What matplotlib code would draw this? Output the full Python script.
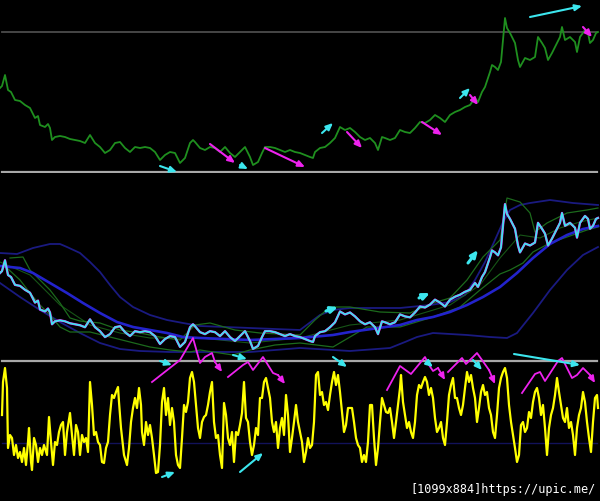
import matplotlib
matplotlib.use("Agg")
import matplotlib.pyplot as plt

# ---------------- data ----------------
# price (top panel and cyan line of middle panel)
price_x = [0, 2, 5, 8, 11, 15, 20, 25, 30, 35, 38, 40, 45, 48, 50, 52, 55, 60, 65, 70, 75, 80, 85, 90, 95,
           100, 105, 110, 115, 120, 125, 130, 135, 140, 145, 150, 155, 160, 165, 170, 175, 180, 185, 190, 193, 195,
           200, 205, 210, 215, 220, 225, 230, 235, 240, 245, 250, 253, 258, 262, 265, 270, 275, 280, 285, 290, 295,
           300, 305, 310, 313, 315, 320, 325, 330, 335, 340, 345, 350, 355, 360, 365, 370, 375, 378, 382, 385, 390, 395,
           400, 405, 410, 415, 420, 425, 430, 435, 440, 445, 450, 455, 460, 465, 470, 475, 478, 482, 485, 488, 490, 492, 495, 498,
           501, 503, 505, 507, 510, 515, 518, 520, 525, 530, 535, 538, 542, 545, 548, 552, 555, 560, 562, 565, 570, 575, 577, 580,
           585, 588, 590, 593, 596, 598]
price = [92, 94, 105, 90, 88, 80, 79, 75, 72, 62, 64, 55, 53, 56, 52, 40, 43, 44, 43, 41, 40, 39, 37, 45, 37,
         33, 27, 30, 37, 38, 32, 28, 33, 32, 33, 32, 28, 20, 25, 28, 27, 17, 22, 37, 40, 38,
         32, 30, 33, 32, 28, 33, 27, 23, 28, 33, 23, 15, 18, 27, 33, 33, 32, 30, 28, 30, 28,
         27, 25, 23, 22, 28, 32, 33, 37, 42, 53, 50, 52, 48, 43, 40, 42, 37, 30, 43, 42, 40, 42,
         50, 48, 47, 52, 58, 57, 60, 65, 62, 58, 65, 68, 70, 73, 75, 82, 78, 88, 93, 102, 108, 115, 113, 110,
         118, 140, 162, 152, 147, 137, 120, 113, 122, 120, 123, 143, 137, 132, 120, 127, 133, 143, 153, 140, 143, 138, 128, 143,
         150, 147, 137, 140, 147, 148]
top_ref_level = 148

# middle panel indicator lines
ma_x = [0, 20, 33, 50, 67, 83, 100, 117, 133, 150, 167, 183, 200, 250, 300, 333, 350, 400, 417, 433, 450, 467, 483,
        500, 517, 533, 550, 567, 583, 598]
ma = [98, 96, 91, 81, 71, 61, 51, 42, 37, 34, 31, 27, 26, 24, 26, 29, 32, 39, 44, 47, 52, 59, 67,
      77, 91, 106, 120, 129, 135, 138]

env_up_x = [0, 17, 33, 50, 60, 67, 80, 90, 100, 110, 120, 133, 150, 167, 183, 200, 250, 300, 320, 333, 350, 400,
            430, 450, 465, 475, 485, 495, 503, 510, 520, 530, 550, 573, 598]
env_up = [111, 110, 116, 120, 120, 117, 111, 102, 92, 79, 67, 57, 49, 44, 41, 38, 36, 34, 49, 54, 56, 56,
          59, 62, 69, 84, 102, 124, 142, 154, 159, 161, 164, 161, 159]

env_lo_x = [0, 20, 40, 60, 80, 100, 120, 140, 170, 200, 250, 300, 350, 390, 405, 417, 433, 467, 490, 507, 517,
            533, 550, 567, 583, 598]
env_lo = [81, 67, 54, 42, 31, 21, 15, 13, 12, 12, 12, 16, 13, 16, 22, 27, 31, 29, 27, 26, 31,
          51, 74, 94, 109, 117]

bb_up_x = [10, 23, 30, 40, 50, 60, 70, 80, 100, 120, 140, 160, 180, 195, 210, 235, 260, 300, 315, 330, 350, 380,
           410, 433, 450, 467, 483, 500, 507, 520, 530, 535, 547, 567, 587, 598]
bb_up = [106, 107, 94, 84, 74, 61, 46, 43, 41, 34, 31, 27, 24, 39, 41, 34, 31, 29, 44, 57, 57, 52,
         51, 61, 66, 84, 107, 124, 166, 162, 151, 132, 141, 151, 154, 156]

bb_lo_x = [7, 20, 30, 40, 50, 60, 70, 90, 110, 130, 150, 170, 190, 200, 233, 250, 275, 300, 333, 367, 400, 433,
           460, 480, 500, 510, 523, 533, 550, 567, 587, 598]
bb_lo = [96, 84, 71, 59, 49, 37, 32, 32, 27, 22, 17, 14, 12, 14, 9, 14, 19, 21, 17, 37, 37, 47,
         57, 74, 90, 94, 101, 112, 121, 127, 134, 137]

bb_mid_x = [0, 30, 60, 90, 120, 150, 200, 250, 300, 350, 400, 450, 480, 500, 520, 540, 560, 580, 598]
bb_mid = [102, 89, 59, 39, 31, 26, 26, 21, 26, 39, 44, 59, 79, 106, 129, 126, 136, 142, 146]

# oscillator (bottom panel)
osc_x = [2, 3, 5, 7, 8, 10, 12, 14, 16, 18, 20, 22, 24, 26, 28, 29, 31, 32, 34, 36, 38, 40, 42, 44, 47, 49,
         51, 53, 55, 57, 59, 61, 63, 65, 67, 70, 72, 74, 76, 78, 80, 82, 84, 86, 88, 90, 92, 94, 96, 98,
         100, 102, 104, 106, 108, 110, 112, 114, 116, 118, 119, 121, 124, 127, 129, 131, 133, 135, 137, 139, 141, 142,
         144, 146, 148, 150, 152, 154, 156, 158, 160, 162, 164, 166, 168, 170, 172, 174, 176, 178, 180, 182, 184,
         186, 188, 190, 192, 194, 196, 198,
         200, 202, 204, 206, 208, 210, 212, 214, 216, 218, 220, 222, 224, 226, 228, 230, 232, 234, 236, 238, 240,
         242, 244, 246, 248, 250, 252, 254, 256, 258, 260, 262, 264, 266, 268, 270, 272, 274, 276, 278, 280, 282,
         284, 286, 288, 290, 292, 294, 296, 298,
         300, 302, 304, 306, 308, 310, 312, 314, 316, 318, 320, 322, 324, 326, 328, 330, 332, 334, 336, 338, 340,
         342, 344, 346, 348, 350, 352, 354, 356, 358, 360, 362, 364, 366, 368, 370, 372, 374, 376, 378, 380, 382,
         384, 386, 388, 390, 392, 394, 396, 398,
         400, 401, 403, 405, 407, 409, 411, 413, 415, 417, 419, 421, 423, 425, 427, 429, 431, 433, 435, 437, 439,
         441, 443, 445, 447, 449, 451, 453, 455, 457, 459, 461, 463, 465, 467, 469, 471, 473, 475, 477, 479, 481,
         483, 485, 487, 489, 491, 493, 495, 497, 499,
         501, 503, 505, 507, 509, 511, 513, 515, 517, 519, 521, 523, 525, 527, 529, 531, 533, 535, 537, 539, 541,
         543, 545, 547, 549, 551, 553, 555, 557, 559, 561, 563, 565, 567, 569, 571, 573, 575, 577, 579, 581, 583,
         585, 587, 589, 591, 593, 595, 597, 598]
osc = [86, 119, 133, 113, 53, 66, 63, 46, 56, 43, 49, 39, 53, 36, 59, 73, 39, 31, 63, 56, 39, 53, 46, 56, 46, 84,
       59, 36, 59, 56, 69, 76, 79, 46, 69, 88, 66, 46, 76, 69, 46, 66, 59, 63, 49, 119, 96, 66, 69, 59,
       56, 39, 38, 53, 59, 86, 106, 103, 109, 114, 99, 73, 46, 36, 53, 79, 93, 103, 93, 113, 96, 69,
       56, 79, 66, 76, 63, 46, 28, 29, 56, 99, 113, 86, 103, 76, 93, 79, 46, 36, 33, 63, 96,
       89, 99, 123, 129, 119, 96, 73,
       63, 79, 84, 86, 96, 109, 119, 79, 63, 66, 46, 33, 98, 86, 63, 56, 69, 39, 69, 66, 76,
       88, 119, 83, 79, 59, 46, 56, 73, 66, 103, 103, 119, 123, 113, 103, 79, 69, 79, 53, 73, 83,
       66, 106, 86, 49, 63, 79, 96, 79,
       69, 59, 39, 49, 63, 53, 56, 79, 126, 129, 106, 109, 96, 99, 91, 106, 119, 129, 116, 126, 109,
       89, 69, 76, 93, 93, 93, 79, 63, 56, 53, 39, 46, 39, 59, 96, 96, 63, 36, 53, 79, 103,
       96, 89, 88, 93, 79, 63, 79, 96,
       113, 126, 99, 86, 73, 79, 69, 63, 79, 106, 116, 113, 119, 124, 119, 106, 113, 103, 83, 69, 73,
       79, 63, 56, 79, 106, 116, 123, 103, 103, 93, 86, 96, 113, 129, 119, 126, 113, 103, 79, 93, 109,
       116, 106, 109, 93, 86, 69, 63, 86, 113,
       123, 129, 133, 123, 96, 79, 66, 53, 39, 46, 76, 79, 69, 73, 89, 83, 99, 109, 113, 103, 86,
       96, 73, 46, 73, 86, 93, 106, 123, 109, 96, 83, 79, 93, 73, 79, 66, 46, 73, 86, 93, 109,
       99, 79, 63, 49, 79, 103, 106, 93]
osc_ref_level = 58

# signal arrows: (x_start, value_start, x_end, value_end)
top_arrows_cyan = [(160, 14, 177, 8), (240, 15, 248, 11), (322, 47, 333, 57), (460, 82, 470, 92), (530, 163, 582, 174)]
top_arrows_magenta = [(210, 36, 235, 17), (265, 32, 305, 13), (347, 48, 362, 32), (422, 58, 442, 45),
                      (470, 85, 478, 75), (583, 153, 592, 143)]
mid_arrows_cyan = [(326, 53, 338, 57), (419, 66, 430, 71), (468, 101, 478, 114)]
bot_arrows_cyan = [(162, 24, 175, 29), (240, 29, 263, 48), (160, 140, 172, 136), (233, 146, 247, 142),
                   (333, 144, 347, 134), (428, 138, 433, 134), (473, 141, 482, 131), (514, 147, 580, 136)]

zz1_x = [152, 180, 193, 200, 205, 212, 215, 222]
zz1 = [119, 141, 163, 138, 144, 148, 139, 129]
zz2_x = [228, 243, 248, 253, 263, 268, 273, 278, 285]
zz2 = [124, 136, 139, 131, 144, 136, 128, 126, 117]
zz3_x = [387, 400, 411, 425, 429, 433, 438, 445]
zz3 = [111, 135, 127, 144, 136, 130, 133, 121]
zz4_x = [448, 462, 466, 475, 477, 482, 489, 495]
zz4 = [129, 143, 137, 146, 148, 141, 131, 117]
zz5_x = [522, 535, 540, 545, 558, 562, 572, 577, 583, 590, 595]
zz5 = [108, 127, 129, 120, 140, 143, 123, 126, 133, 126, 118]
zigzags = [(zz1_x, zz1), (zz2_x, zz2), (zz3_x, zz3), (zz4_x, zz4), (zz5_x, zz5)]

# ---------------- styling ----------------
BG = "black"
GREEN = "#1f8f1f"
CYAN = "#3ce6ee"
MAGENTA = "#ee22ee"
YELLOW = "#ffff00"
BLUE = "#2323cc"
NAVY = "#1a1a80"
DKGREEN = "#1c6a1c"
SEP = "#a8a8a8"

fig = plt.figure(figsize=(6.0, 5.01), dpi=100, facecolor=BG)
H = 501.0
ax_top = fig.add_axes([0, (H - 172) / H, 1, 172 / H])
ax_mid = fig.add_axes([0, 140 / H, 1, 188 / H])
ax_bot = fig.add_axes([0, 0, 1, 140 / H])
ax_mid_p = ax_mid.twinx()

for a in (ax_top, ax_mid, ax_bot, ax_mid_p):
    a.set_facecolor(BG)
    a.set_xlim(0, 600)
    a.set_xticks([])
    a.set_yticks([])
    for s in a.spines.values():
        s.set_visible(False)
ax_mid_p.patch.set_visible(False)

ax_top.set_ylim(8, 180)
ax_mid.set_ylim(3, 191)
ax_mid_p.set_ylim(2.7, 193.6)
ax_bot.set_ylim(0, 140)


def arrow(ax, a, color, lw=1.5):
    x0, y0, x1, y1 = a
    ax.annotate("", xy=(x1, y1), xytext=(x0, y0), annotation_clip=False,
                arrowprops=dict(arrowstyle="-|>,head_length=0.45,head_width=0.2", mutation_scale=9,
                                color=color, lw=lw, shrinkA=0, shrinkB=0), zorder=6)


# top panel
ax_top.plot([2, 597], [top_ref_level, top_ref_level], color="#4c4c4c", lw=1.3, zorder=1)
ax_top.plot(price_x, price, color=GREEN, lw=1.3, zorder=3)
ax_top.plot([2, 597], [8, 8], color=SEP, lw=1.6, clip_on=False, zorder=2)
for a in top_arrows_cyan:
    arrow(ax_top, a, CYAN)
for a in top_arrows_magenta:
    arrow(ax_top, a, MAGENTA)

# middle panel
ax_mid.plot(env_up_x, env_up, color=NAVY, lw=1.3, zorder=1)
ax_mid.plot(env_lo_x, env_lo, color=NAVY, lw=1.3, zorder=1)
ax_mid.plot(bb_up_x, bb_up, color=DKGREEN, lw=0.9, zorder=2)
ax_mid.plot(bb_lo_x, bb_lo, color=DKGREEN, lw=0.9, zorder=2)
ax_mid.plot(bb_mid_x, bb_mid, color=DKGREEN, lw=0.8, alpha=0.8, zorder=2)
ax_mid.plot(ma_x, ma, color=BLUE, lw=1.9, zorder=3)
ax_mid_p.plot(price_x, price, color=MAGENTA, lw=1.7, zorder=4)
ax_mid_p.plot(price_x, price, color=CYAN, lw=1.25, zorder=5)
for a in mid_arrows_cyan:
    arrow(ax_mid, a, CYAN, lw=2.2)

# bottom panel
ax_bot.plot([2, 597], [osc_ref_level, osc_ref_level], color="#12125a", lw=1.0, zorder=1)
ax_bot.plot([2, 597], [140, 140], color=SEP, lw=1.6, clip_on=False, zorder=2)
ax_bot.plot(osc_x, osc, color=YELLOW, lw=1.6, zorder=3)
for zx, zy in zigzags:
    ax_bot.plot(zx[:-1], zy[:-1], color=MAGENTA, lw=1.3, clip_on=False, zorder=5)
    arrow(ax_bot, (zx[-2], zy[-2], zx[-1], zy[-1]), MAGENTA, lw=1.3)
for a in bot_arrows_cyan:
    arrow(ax_bot, a, CYAN)

fig.text(0.993, 1 - 490 / H, "[1099x884]https://upic.me/", ha="right", va="center", color="white",
         fontsize=8.5, family=["Liberation Sans Narrow", "DejaVu Sans Mono"])

fig.savefig("out.png", dpi=100, facecolor=BG)
